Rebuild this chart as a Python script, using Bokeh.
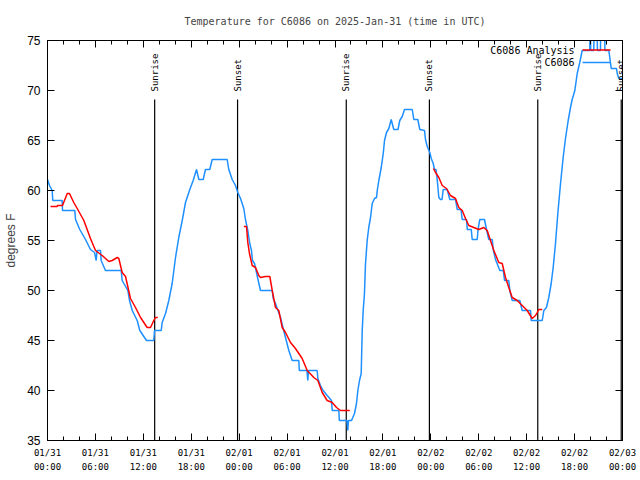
import math
from bokeh.plotting import figure
from bokeh.models import Range1d, FixedTicker, LinearAxis, ColumnDataSource, LabelSet
from bokeh.embed import file_html
from bokeh.resources import INLINE
from bokeh.core.properties import value

NaN = float("nan")

# Observed temperature (C6086), hours since 01/31 00:00 UTC
obs_hours = [0.00, 0.25, 0.59, 0.66, 1.84, 1.88, 3.42, 3.51, 4.04, 4.76, 5.38, 5.89, 6.10, 6.20, 6.64,
             6.72, 7.26, 9.23, 9.35, 10.06, 10.27, 10.61, 11.23, 11.56, 12.40, 13.31, 13.40, 14.24,
             14.36, 14.78, 15.19, 15.61, 16.03, 16.44, 16.87, 17.28, 17.82, 18.24, 18.66, 18.95, 19.50,
             19.78, 20.32, 20.62, 22.50, 22.70, 23.13, 23.54, 23.83, 24.17, 24.58, 24.79, 25.08, 25.33,
             25.54, 25.67, 25.92, 26.17, 26.33, 26.67, 28.14, 28.26, 28.55, 28.76, 29.18, 29.51, 29.80,
             30.22, 30.64, 31.47, 31.53, 32.49, 32.59, 32.68, 33.77, 33.85, 34.18, 34.52, 35.02, 35.56,
             35.65, 36.48, 36.54, 37.50, 37.60, 37.69, 38.07, 38.44, 38.69, 38.86, 39.07, 39.28, 39.41,
             39.53, 39.69, 39.82, 40.03, 40.23, 40.45, 40.66, 40.95, 41.20, 41.29, 41.49, 41.79, 42.04,
             42.20, 42.45, 42.74, 43.04, 43.36, 43.89, 44.11, 44.42, 44.70, 45.67, 45.87, 46.37, 46.62,
             47.21, 47.33, 47.55, 47.87, 48.05, 48.30, 48.46, 48.65, 48.80, 49.00, 49.21, 49.40, 49.55,
             50.05, 50.38, 51.09, 51.30, 51.78, 51.93, 52.47, 52.56, 53.06, 53.18, 53.81, 53.91, 54.13,
             54.72, 54.97, 55.26, 55.69, 55.81, 56.10, 56.64, 57.07, 57.23, 57.76, 57.89, 58.19, 59.14,
             59.44, 60.48, 60.57, 61.95, 62.15, 62.48, 62.77, 63.07, 63.32, 63.61, 63.90, 64.24, 64.57,
             64.86, 65.20, 65.49, 65.70, 66.03, 66.33, 66.65, 66.95, 67.90, 67.96, 68.02, 68.40, 68.46,
             68.80, 68.86, 69.24, 69.28, 69.75, 69.80, 70.29, 70.59, 71.25, 71.34, 71.54, 72.00]
obs_temp = [61.1, 60.5, 60.0, 59.0, 59.0, 58.0, 58.0, 57.1, 56.1, 55.1, 54.1, 53.8, 53.0, 54.0, 54.0,
            53.0, 52.0, 52.0, 51.0, 50.0, 49.0, 48.0, 47.0, 46.0, 45.0, 45.0, 46.0, 46.0,
            46.8, 47.7, 49.0, 50.7, 53.3, 55.3, 57.0, 58.8, 60.1, 61.0, 62.1, 61.1, 61.1,
            62.1, 62.1, 63.1, 63.1, 62.1, 61.1, 60.5, 59.8, 59.2, 58.2, 57.1, 56.0, 54.7,
            54.0, 53.0, 52.7, 51.8, 51.2, 50.0, 50.0, 49.2, 48.7, 48.2, 47.3, 46.2, 45.3,
            44.0, 43.0, 43.0, 42.0, 42.0, 41.0, 42.0, 42.0, 41.2, 40.5, 40.0, 39.5, 39.0,
            38.0, 38.0, 37.0, 37.0, 36.0, 37.0, 37.0, 37.7, 38.7, 40.0, 41.0, 41.7, 46.0,
            48.0, 49.7, 52.7, 55.0, 56.3, 57.3, 58.7, 59.2, 59.3, 60.0, 61.0, 62.3, 63.7,
            65.0, 65.8, 66.2, 67.1, 66.1, 66.1, 67.0, 67.4, 68.1, 68.1, 67.1, 67.1, 66.1,
            66.0, 65.1, 64.4, 63.8, 63.2, 62.7, 62.1, 62.1, 61.1, 59.3, 59.1, 59.1, 60.1,
            60.1, 59.1, 59.1, 58.1, 58.1, 57.1, 57.1, 56.1, 56.1, 55.1, 55.1, 56.1, 57.1,
            57.1, 56.1, 55.1, 55.1, 54.1, 53.1, 52.0, 52.0, 51.0, 51.0, 50.0, 49.0, 49.0,
            48.0, 48.0, 47.0, 47.0, 48.0, 48.3, 49.3, 50.7, 52.3, 54.7, 57.7, 60.7, 63.3,
            65.2, 67.0, 68.3, 69.1, 70.0, 71.7, 72.8, 74.0, 74.0, 77.0, 74.0, 74.0, 77.0,
            77.0, 74.0, 74.0, 77.0, 77.0, 74.0, 74.0, 72.2, 72.2, 71.7, 71.2, 71.2]

# Analysis (C6086 Analysis); NaN separates the daily segments
ana_hours = [0.38, 1.21, 1.25, 1.88, 2.47, 2.75, 3.29, 3.72, 4.55, 5.38, 6.01, 6.85, 7.68, 8.10, 8.73,
             8.93, 9.35, 9.77, 10.39, 11.02, 11.65, 12.48, 12.90, 13.31, 13.52, 13.81, NaN,
             24.58, 24.92, 25.08, 25.29, 25.63, 26.05, 26.46, 26.67, 27.30, 27.84, 28.14, 28.55, 28.96,
             29.39, 29.80, 30.43, 31.05, 31.89, 32.52, 33.35, 33.85, 34.40, 35.02, 35.65, 36.19, 36.69,
             37.85, NaN,
             48.33, 48.59, 49.00, 49.43, 49.96, 50.46, 51.09, 51.50, 51.93, 52.34, 52.76, 53.38, 54.01,
             54.63, 55.06, 55.47, 55.89, 56.51, 56.94, 57.35, 57.76, 58.19, 58.81, 59.44, 60.07, 60.69,
             61.11, 61.32, 61.52, 61.95]
ana_temp = [58.4, 58.4, 58.5, 58.5, 59.7, 59.7, 58.8, 58.2, 57.0, 55.2, 54.0, 53.5, 52.9, 53.0, 53.3,
            53.2, 51.8, 51.4, 49.2, 48.3, 47.3, 46.3, 46.3, 47.0, 47.3, 47.3, NaN,
            56.4, 56.4, 54.8, 53.7, 52.5, 52.3, 51.5, 51.3, 51.4, 51.4, 50.0, 48.3, 48.0,
            46.3, 45.8, 44.8, 44.2, 43.2, 42.0, 41.3, 41.0, 39.8, 39.0, 38.8, 38.3, 38.0,
            38.0, NaN,
            62.2, 61.8, 61.3, 60.5, 60.2, 59.5, 59.2, 58.3, 58.0, 57.2, 56.5, 56.3, 56.1,
            56.3, 56.0, 55.0, 54.0, 52.8, 52.7, 51.3, 50.3, 49.3, 49.0, 48.5, 48.0, 47.2,
            47.5, 47.8, 48.1, 48.1]

sun_hours = [13.42, 23.80, 37.41, 47.82, 61.39, 71.84]
sun_names = ["Sunrise", "Sunset", "Sunrise", "Sunset", "Sunrise", "Sunset"]

tick_hours = [0, 6, 12, 18, 24, 30, 36, 42, 48, 54, 60, 66, 72]
tick_labels = ["01/31\n00:00", "01/31\n06:00", "01/31\n12:00", "01/31\n18:00",
               "02/01\n00:00", "02/01\n06:00", "02/01\n12:00", "02/01\n18:00",
               "02/02\n00:00", "02/02\n06:00", "02/02\n12:00", "02/02\n18:00",
               "02/03\n00:00"]
y_ticks = [35, 40, 45, 50, 55, 60, 65, 70, 75]

series_names = ["C6086 Analysis", "C6086"]

BLUE = "#1E90FF"
RED = "#FF0000"
MONO = "DejaVu Sans Mono"
SANS = "Liberation Sans"

p = figure(width=640, height=480,
           x_range=Range1d(0, 72), y_range=Range1d(35, 75),
           output_backend="svg", toolbar_location=None,
           min_border_left=47, min_border_right=18, min_border_top=40, min_border_bottom=40,
           title="Temperature for C6086 on 2025-Jan-31 (time in UTC)")
p.background_fill_color = "white"
p.border_fill_color = "white"
p.outline_line_color = "black"
p.outline_line_width = 1
p.xgrid.grid_line_color = None
p.ygrid.grid_line_color = None

p.title.text_font = MONO
p.title.text_font_size = "10px"
p.title.text_font_style = "normal"
p.title.align = "center"
p.title.standoff = 27

minor_hours = list(range(0, 73, 2))

def style_x(ax, labels=True):
    ax.ticker = FixedTicker(ticks=tick_hours, minor_ticks=minor_hours)
    ax.major_tick_in = 7
    ax.major_tick_out = 0
    ax.minor_tick_in = 4
    ax.minor_tick_out = 0
    ax.axis_line_color = "black"
    ax.major_tick_line_color = "black"
    ax.minor_tick_line_color = "black"
    if labels:
        ax.major_label_overrides = {t: l for t, l in zip(tick_hours, tick_labels)}
        ax.major_label_text_font = MONO
        ax.major_label_text_font_size = "9px"
        ax.major_label_text_line_height = 1.43
        ax.major_label_standoff = 7
        ax.major_label_text_color = "black"
    else:
        ax.major_label_text_font_size = "0px"
        ax.major_label_text_color = None
        ax.major_label_standoff = 0

def style_y(ax, labels=True):
    ax.ticker = FixedTicker(ticks=y_ticks, minor_ticks=[])
    ax.major_tick_in = 7
    ax.major_tick_out = 0
    ax.minor_tick_in = 0
    ax.minor_tick_out = 0
    ax.axis_line_color = "black"
    ax.major_tick_line_color = "black"
    if labels:
        ax.major_label_text_font = SANS
        ax.major_label_text_font_size = "12px"
        ax.major_label_standoff = 7
        ax.major_label_text_color = "black"
    else:
        ax.major_label_text_font_size = "0px"
        ax.major_label_text_color = None
        ax.major_label_standoff = 0

style_x(p.xaxis[0])
style_y(p.yaxis[0])
p.yaxis[0].axis_label = "degrees F"
p.yaxis[0].axis_label_text_font = SANS
p.yaxis[0].axis_label_text_font_size = "12px"
p.yaxis[0].axis_label_text_font_style = "normal"
p.yaxis[0].axis_label_standoff = 6

top_ax = LinearAxis()
style_x(top_ax, labels=False)
p.add_layout(top_ax, "above")
right_ax = LinearAxis()
style_y(right_ax, labels=False)
p.add_layout(right_ax, "right")

# Sunrise / sunset markers
sun_src = ColumnDataSource(dict(x=sun_hours, name=sun_names,
                                y0=[35] * len(sun_hours), y1=[69.1] * len(sun_hours),
                                ly=[69.9] * len(sun_hours)))
p.segment(x0="x", y0="y0", x1="x", y1="y1", source=sun_src, line_color="black", line_width=1.2)
p.add_layout(LabelSet(x="x", y="ly", text="name", source=sun_src, angle=math.pi / 2,
                      text_align="left", text_baseline="middle",
                      text_font=value(MONO), text_font_size="9px", text_color="black"))

# Data lines
p.line(obs_hours, obs_temp, line_color=BLUE, line_width=1.5)
p.line(ana_hours, ana_temp, line_color=RED, line_width=1.5)

# Key (label followed by line sample, gnuplot style)
key_src = ColumnDataSource(dict(x=[66.0, 66.0], y=[74.05, 72.8], t=series_names,
                                sx0=[67.0, 67.0], sx1=[70.5, 70.5], c=[RED, BLUE]))
p.text(x="x", y="y", text="t", source=key_src, text_align="right", text_baseline="middle",
       text_font=value(MONO), text_font_size="10px", text_color="black")
p.segment(x0="sx0", y0="y", x1="sx1", y1="y", source=key_src, line_color="c", line_width=1.5)

open("out.html", "w").write(file_html(p, INLINE))
